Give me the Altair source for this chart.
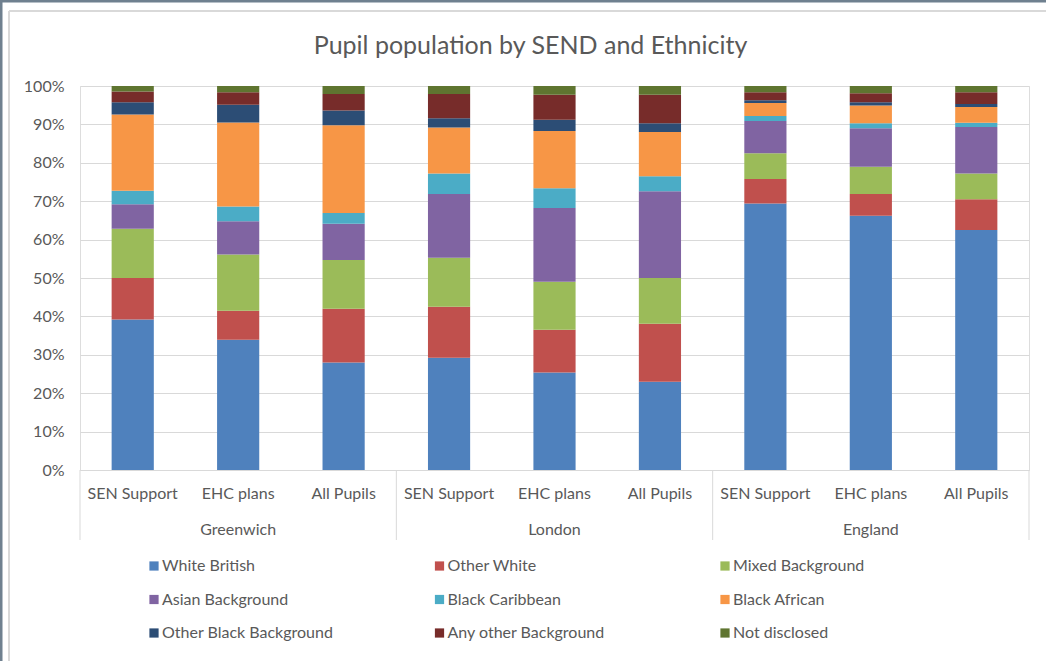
import altair as alt
import pandas as pd

# Areas and pupil groups along the x axis
groups = ["Greenwich", "London", "England"]
categories = ["SEN Support", "EHC plans", "All Pupils"]

# Ethnic groups, bottom of the stack first
ethnicities = [
    "White British", "Other White", "Mixed Background",
    "Asian Background", "Black Caribbean", "Black African",
    "Other Black Background", "Any other Background", "Not disclosed",
]
colors = [
    "#4F81BD", "#C0504D", "#9BBB59",
    "#8064A2", "#4BACC6", "#F79646",
    "#2C4D75", "#772C2A", "#5F7530",
]

# Percentage shares, one value per bar:
# Greenwich SEN/EHC/All, London SEN/EHC/All, England SEN/EHC/All
white_british = [39.2, 33.9, 28.0, 29.2, 25.4, 23.0, 69.4, 66.2, 62.5]
other_white = [10.8, 7.6, 14.0, 13.3, 11.1, 15.1, 6.4, 5.7, 8.0]
mixed = [12.8, 14.6, 12.7, 12.8, 12.5, 11.9, 6.7, 7.1, 6.7]
asian = [6.4, 8.7, 9.4, 16.6, 19.2, 22.6, 8.4, 10.0, 12.1]
black_caribbean = [3.5, 3.8, 2.8, 5.3, 5.2, 3.9, 1.3, 1.3, 1.1]
black_african = [19.9, 21.9, 22.9, 12.0, 14.9, 11.5, 3.4, 4.6, 4.1]
other_black = [3.2, 4.6, 3.8, 2.4, 2.9, 2.3, 0.7, 0.9, 0.8]
any_other = [2.8, 3.3, 4.3, 6.3, 6.5, 7.4, 2.1, 2.3, 3.1]
not_disclosed = [1.4, 1.6, 2.1, 2.1, 2.3, 2.3, 1.6, 1.9, 1.6]

series = [white_british, other_white, mixed, asian, black_caribbean,
          black_african, other_black, any_other, not_disclosed]

keys = [f"{g}|{c}" for g in groups for c in categories]

rows = []
for ei, (name, vals) in enumerate(zip(ethnicities, series)):
    for k, v in zip(keys, vals):
        rows.append({"key": k, "ethnicity": name, "order": ei, "share": v / 100})
bars_df = pd.DataFrame(rows)

group_df = pd.DataFrame({"key": [f"{g}|{categories[1]}" for g in groups], "group": groups})
sep_start_df = pd.DataFrame({"key": [f"{g}|{categories[0]}" for g in groups]})
sep_end_df = pd.DataFrame({"key": [keys[-1]]})

TEXT = "#595959"
GRID = "#d9d9d9"
FONT = "Lato"
W, H = 949, 384

x_scale = alt.Scale(domain=keys, paddingInner=0, paddingOuter=0)

bars = alt.Chart(bars_df).mark_bar(width=alt.RelativeBandSize(0.4)).encode(
    x=alt.X("key:N", scale=x_scale, sort=keys,
            axis=alt.Axis(title=None, labelExpr="split(datum.label, '|')[1]",
                          labelAngle=0, ticks=False, domain=True, domainColor=GRID,
                          labelPadding=15, labelFontSize=16, labelColor=TEXT,
                          labelFont=FONT)),
    y=alt.Y("share:Q", stack="zero", scale=alt.Scale(domain=[0, 1], nice=False),
            axis=alt.Axis(title=None, format=".0%",
                          values=[i / 10 for i in range(11)],
                          grid=True, gridColor=GRID, gridWidth=1,
                          domain=False, ticks=False, labelPadding=16,
                          labelFontSize=16, labelColor=TEXT, labelFont=FONT)),
    color=alt.Color("ethnicity:N",
                    scale=alt.Scale(domain=ethnicities, range=colors),
                    legend=alt.Legend(title=None, orient="none", legendX=66, legendY=472,
                                      direction="horizontal", columns=3,
                                      gridAlign="all", columnPadding=97.5, rowPadding=17.5,
                                      symbolType="square", symbolSize=85,
                                      symbolStrokeWidth=0, labelOffset=0,
                                      labelLimit=320,
                                      labelFontSize=16, labelColor=TEXT,
                                      labelFont=FONT, padding=0)),
    order=alt.Order("order:Q", sort="ascending"),
)

group_labels = alt.Chart(group_df).mark_text(
    fontSize=16, color=TEXT, font=FONT, baseline="middle"
).encode(
    x=alt.X("key:N", scale=x_scale, sort=keys),
    y=alt.value(H + 60),
    text="group:N",
)

sep_start = alt.Chart(sep_start_df).mark_rule(color=GRID, strokeWidth=1).encode(
    x=alt.X("key:N", scale=x_scale, sort=keys, bandPosition=0),
    y=alt.value(H),
    y2=alt.value(H + 70),
)
sep_end = alt.Chart(sep_end_df).mark_rule(color=GRID, strokeWidth=1).encode(
    x=alt.X("key:N", scale=x_scale, sort=keys, bandPosition=1),
    y=alt.value(H),
    y2=alt.value(H + 70),
)

# Window frame: dark edge and light chart border
frame_df = pd.DataFrame({"k": [0]})
frame = [
    alt.Chart(frame_df).mark_rule(color="#6f808f", strokeWidth=3).encode(
        x=alt.value(-80), x2=alt.value(W + 17), y=alt.value(-85)),
    alt.Chart(frame_df).mark_rule(color="#6f808f", strokeWidth=3).encode(
        x=alt.value(-79), y=alt.value(-86), y2=alt.value(H + 191)),
    alt.Chart(frame_df).mark_rule(color=GRID, strokeWidth=2).encode(
        x=alt.value(-71), x2=alt.value(W + 17), y=alt.value(-75)),
    alt.Chart(frame_df).mark_rule(color=GRID, strokeWidth=2).encode(
        x=alt.value(-71), y=alt.value(-75), y2=alt.value(H + 191)),
]

chart = alt.layer(bars, group_labels, sep_start, sep_end, *frame).properties(
    width=W,
    height=H,
    title=alt.TitleParams("Pupil population by SEND and Ethnicity", fontSize=25,
                          font=FONT, color=TEXT, fontWeight="normal",
                          anchor="middle", dx=-24, offset=0, dy=60),
    autosize=alt.AutoSizeParams(type="none"),
    padding={"left": 80, "top": 86, "right": 17, "bottom": 191},
).configure_view(stroke=None).configure(background="white")

chart.save("out.html", embed_options={"renderer": "svg", "actions": False})
